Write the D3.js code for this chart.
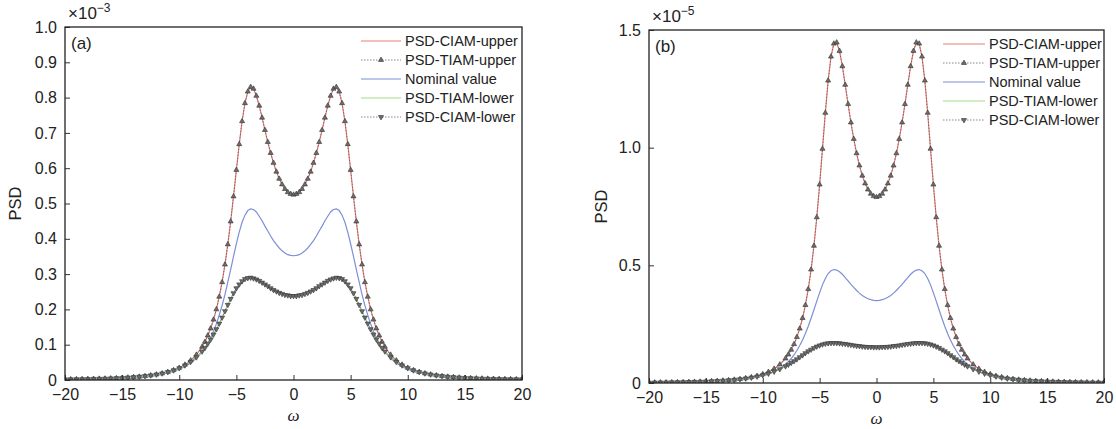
<!DOCTYPE html>
<html lang="en">
  <head>
    <meta charset="utf-8">
    <title>PSD bounds</title>
    <script type="text/javascript" src="https://cdn.jsdelivr.net/npm/d3@7"></script>
    <style>
    body { margin: 0; background: #fff; }
    svg { display: block; font-family: "Liberation Sans", Arial, sans-serif; }
    </style>
  </head>
  <body>
    <div id="chart"></div>
    <script type="text/javascript">

      // frequency grid (omega)
      var omega = [-20,-19.5,-19,-18.5,-18,-17.5,-17,-16.5,-16,-15.5,-15,-14.5,-14,-13.5,-13,-12.5,-12,-11.5,-11,-10.5,-10,-9.5,-9,-8.5,
        -8,-7.75,-7.5,-7.25,-7,-6.75,-6.5,-6.25,-6,-5.75,-5.5,-5.25,-5,-4.75,-4.5,-4.25,-4,-3.75,-3.5,-3.25,-3,-2.75,-2.5,-2.25,-2,-1.75,-1.5,-1.25,-1,-0.75,-0.5,-0.25,
        0,
        0.25,0.5,0.75,1,1.25,1.5,1.75,2,2.25,2.5,2.75,3,3.25,3.5,3.75,4,4.25,4.5,4.75,5,5.25,5.5,5.75,6,6.25,6.5,6.75,7,7.25,7.5,7.75,8,
        8.5,9,9.5,10,10.5,11,11.5,12,12.5,13,13.5,14,14.5,15,15.5,16,16.5,17,17.5,18,18.5,19,19.5,20];

      // panel (a), units of 1e-3
      var upperA = [0.0018,0.0020,0.0022,0.0025,0.0028,0.0031,0.0035,0.0040,0.0045,0.0052,0.0060,0.0069,0.0080,0.0093,0.0110,0.0130,0.0155,0.0186,0.0227,0.0278,0.0345,0.0434,0.0553,0.0715,
        0.094,0.108,0.126,0.146,0.171,0.200,0.236,0.277,0.327,0.384,0.449,0.520,0.595,0.668,0.733,0.784,0.817,0.830,0.825,0.805,0.777,0.743,0.708,0.674,0.643,0.615,0.590,0.570,0.554,0.541,0.532,0.527,
        0.525,
        0.527,0.532,0.541,0.554,0.570,0.590,0.615,0.643,0.674,0.708,0.743,0.777,0.805,0.825,0.830,0.817,0.784,0.733,0.668,0.595,0.520,0.449,0.384,0.327,0.277,0.236,0.200,0.171,0.146,0.126,0.108,0.094,
        0.0715,0.0553,0.0434,0.0345,0.0278,0.0227,0.0186,0.0155,0.0130,0.0110,0.0093,0.0080,0.0069,0.0060,0.0052,0.0045,0.0040,0.0035,0.0031,0.0028,0.0025,0.0022,0.0020,0.0018];

      var nominalA = [0.0016,0.0018,0.0020,0.0022,0.0025,0.0028,0.0032,0.0036,0.0041,0.0046,0.0053,0.0062,0.0071,0.0083,0.0098,0.0116,0.0138,0.0166,0.0201,0.0245,0.0303,0.0379,0.0479,0.0614,
        0.080,0.091,0.104,0.120,0.138,0.159,0.184,0.211,0.242,0.277,0.313,0.350,0.386,0.419,0.447,0.467,0.480,0.485,0.483,0.476,0.464,0.451,0.436,0.422,0.408,0.395,0.384,0.374,0.366,0.360,0.355,0.353,
        0.352,
        0.353,0.355,0.360,0.366,0.374,0.384,0.395,0.408,0.422,0.436,0.451,0.464,0.476,0.483,0.485,0.480,0.467,0.447,0.419,0.386,0.350,0.313,0.277,0.242,0.211,0.184,0.159,0.138,0.120,0.104,0.091,0.080,
        0.0614,0.0479,0.0379,0.0303,0.0245,0.0201,0.0166,0.0138,0.0116,0.0098,0.0083,0.0071,0.0062,0.0053,0.0046,0.0041,0.0036,0.0032,0.0028,0.0025,0.0022,0.0020,0.0018,0.0016];

      var lowerA = [0.0019,0.0021,0.0023,0.0026,0.0029,0.0032,0.0036,0.0041,0.0047,0.0053,0.0061,0.0071,0.0082,0.0095,0.0112,0.0132,0.0156,0.0187,0.0225,0.0274,0.0335,0.0414,0.0515,0.0645,
        0.081,0.091,0.103,0.115,0.129,0.144,0.160,0.177,0.195,0.213,0.230,0.246,0.260,0.271,0.280,0.286,0.289,0.290,0.288,0.285,0.281,0.276,0.271,0.266,0.260,0.255,0.251,0.247,0.244,0.241,0.240,0.238,
        0.238,
        0.238,0.240,0.241,0.244,0.247,0.251,0.255,0.260,0.266,0.271,0.276,0.281,0.285,0.288,0.290,0.289,0.286,0.280,0.271,0.260,0.246,0.230,0.213,0.195,0.177,0.160,0.144,0.129,0.115,0.103,0.091,0.081,
        0.0645,0.0515,0.0414,0.0335,0.0274,0.0225,0.0187,0.0156,0.0132,0.0112,0.0095,0.0082,0.0071,0.0061,0.0053,0.0047,0.0041,0.0036,0.0032,0.0029,0.0026,0.0023,0.0021,0.0019];

      // panel (b), units of 1e-5
      var upperB = [0.0019,0.0022,0.0024,0.0027,0.0030,0.0034,0.0038,0.0043,0.0049,0.0056,0.0065,0.0075,0.0087,0.0101,0.0119,0.0141,0.0168,0.0202,0.0246,0.0302,0.0375,0.0472,0.0604,0.0785,
        0.104,0.121,0.141,0.165,0.195,0.231,0.276,0.331,0.399,0.482,0.583,0.704,0.843,0.995,1.148,1.285,1.387,1.442,1.447,1.411,1.346,1.267,1.185,1.107,1.037,0.976,0.924,0.881,0.848,0.822,0.804,0.794,
        0.790,
        0.794,0.804,0.822,0.848,0.881,0.924,0.976,1.037,1.107,1.185,1.267,1.346,1.411,1.447,1.442,1.387,1.285,1.148,0.995,0.843,0.704,0.583,0.482,0.399,0.331,0.276,0.231,0.195,0.165,0.141,0.121,0.104,
        0.0785,0.0604,0.0472,0.0375,0.0302,0.0246,0.0202,0.0168,0.0141,0.0119,0.0101,0.0087,0.0075,0.0065,0.0056,0.0049,0.0043,0.0038,0.0034,0.0030,0.0027,0.0024,0.0022,0.0019];

      var nominalB = [0.0016,0.0018,0.0020,0.0022,0.0025,0.0028,0.0032,0.0036,0.0041,0.0046,0.0053,0.0062,0.0071,0.0083,0.0097,0.0115,0.0137,0.0165,0.0200,0.0244,0.0301,0.0377,0.0476,0.0611,
        0.079,0.091,0.104,0.119,0.138,0.159,0.183,0.210,0.241,0.275,0.311,0.348,0.384,0.417,0.444,0.465,0.477,0.482,0.480,0.473,0.462,0.448,0.434,0.419,0.406,0.393,0.382,0.372,0.364,0.358,0.354,0.351,
        0.350,
        0.351,0.354,0.358,0.364,0.372,0.382,0.393,0.406,0.419,0.434,0.448,0.462,0.473,0.480,0.482,0.477,0.465,0.444,0.417,0.384,0.348,0.311,0.275,0.241,0.210,0.183,0.159,0.138,0.119,0.104,0.091,0.079,
        0.0611,0.0476,0.0377,0.0301,0.0244,0.0200,0.0165,0.0137,0.0115,0.0097,0.0083,0.0071,0.0062,0.0053,0.0046,0.0041,0.0036,0.0032,0.0028,0.0025,0.0022,0.0020,0.0018,0.0016];

      var lowerB = [0.0020,0.0022,0.0025,0.0027,0.0031,0.0035,0.0039,0.0044,0.0050,0.0057,0.0065,0.0075,0.0086,0.0100,0.0117,0.0137,0.0162,0.0192,0.0229,0.0274,0.0331,0.0400,0.0485,0.0588,
        0.071,0.078,0.086,0.093,0.101,0.110,0.118,0.127,0.135,0.142,0.149,0.155,0.160,0.164,0.167,0.169,0.170,0.170,0.170,0.169,0.167,0.166,0.164,0.162,0.160,0.158,0.157,0.155,0.154,0.153,0.153,0.152,
        0.152,
        0.152,0.153,0.153,0.154,0.155,0.157,0.158,0.160,0.162,0.164,0.166,0.167,0.169,0.170,0.170,0.170,0.169,0.167,0.164,0.160,0.155,0.149,0.142,0.135,0.127,0.118,0.110,0.101,0.093,0.086,0.078,0.071,
        0.0588,0.0485,0.0400,0.0331,0.0274,0.0229,0.0192,0.0162,0.0137,0.0117,0.0100,0.0086,0.0075,0.0065,0.0057,0.0050,0.0044,0.0039,0.0035,0.0031,0.0027,0.0025,0.0022,0.0020];

      var xTicks = [-20, -15, -10, -5, 0, 5, 10, 15, 20];
      var yTicksA = [0, 0.1, 0.2, 0.3, 0.4, 0.5, 0.6, 0.7, 0.8, 0.9, 1.0];
      var yTicksB = [0, 0.5, 1.0, 1.5];
      var legendLabels = ["PSD-CIAM-upper", "PSD-TIAM-upper", "Nominal value", "PSD-TIAM-lower", "PSD-CIAM-lower"];

      var W = 1116, H = 429;

      var svg = d3.select("#chart").append("svg")
          .attr("width", W)
          .attr("height", H);

      var red = "#ee7f76", blue = "#7d8fd6", green = "#a6da8a";
      var mkFill = "#6e6e6e", mkStroke = "#333", mkSize = 11;

      function drawPanel(p) {
        var x = d3.scaleLinear().domain([-20, 20]).range([p.left, p.right]);
        var y = d3.scaleLinear().domain([0, p.ymax]).range([p.bottom, p.top]);

        var g = svg.append("g");

        // clip so markers stay in the box
        var clipId = "clip-" + p.tag;
        g.append("clipPath").attr("id", clipId)
          .append("rect")
            .attr("x", p.left).attr("y", p.top)
            .attr("width", p.right - p.left).attr("height", p.bottom - p.top);

        var data = function(arr) {
          return omega.map(function(w, i) { return [w, arr[i]]; });
        };

        var line = d3.line()
            .x(function(d) { return x(d[0]); })
            .y(function(d) { return y(d[1]); });

        var plot = g.append("g").attr("clip-path", "url(#" + clipId + ")");

        // PSD-CIAM-upper
        plot.append("path").datum(data(p.upper))
            .attr("d", line).attr("fill", "none")
            .attr("stroke", red).attr("stroke-width", 1.2);

        // PSD-TIAM-upper
        plot.append("path").datum(data(p.upper))
            .attr("d", line).attr("fill", "none")
            .attr("stroke", "#555").attr("stroke-width", 0.7)
            .attr("stroke-dasharray", "1.5,1.5");
        plot.selectAll(".up").data(data(p.upper)).enter().append("path")
            .attr("class", "up")
            .attr("d", d3.symbol().type(d3.symbolTriangle).size(mkSize))
            .attr("transform", function(d) { return "translate(" + x(d[0]) + "," + y(d[1]) + ")"; })
            .attr("fill", mkFill).attr("stroke", mkStroke).attr("stroke-width", 0.6);

        // Nominal value
        plot.append("path").datum(data(p.nominal))
            .attr("d", line).attr("fill", "none")
            .attr("stroke", blue).attr("stroke-width", 1.2);

        // PSD-TIAM-lower
        plot.append("path").datum(data(p.lower))
            .attr("d", line).attr("fill", "none")
            .attr("stroke", green).attr("stroke-width", 1.2);

        // PSD-CIAM-lower
        plot.append("path").datum(data(p.lower))
            .attr("d", line).attr("fill", "none")
            .attr("stroke", "#555").attr("stroke-width", 0.7)
            .attr("stroke-dasharray", "1.5,1.5");
        plot.selectAll(".dn").data(data(p.lower)).enter().append("path")
            .attr("class", "dn")
            .attr("d", d3.symbol().type(d3.symbolTriangle).size(mkSize))
            .attr("transform", function(d) { return "translate(" + x(d[0]) + "," + y(d[1]) + ") rotate(180)"; })
            .attr("fill", mkFill).attr("stroke", mkStroke).attr("stroke-width", 0.6);

        // axes (ticks pointing inward)
        var xAxis = d3.axisBottom(x).tickValues(xTicks).tickSizeInner(-5).tickSizeOuter(0).tickPadding(9)
            .tickFormat(function(d) { return d < 0 ? "\u2212" + Math.abs(d) : d; });
        var yAxis = d3.axisLeft(y).tickValues(p.yTicks).tickSizeInner(-5).tickSizeOuter(0).tickPadding(8)
            .tickFormat(function(d) { return d === 0 ? "0" : d3.format(".1f")(d); });

        var gx = g.append("g").attr("transform", "translate(0," + p.bottom + ")").call(xAxis);
        var gy = g.append("g").attr("transform", "translate(" + p.left + ",0)").call(yAxis);
        [gx, gy].forEach(function(a) {
          a.select(".domain").remove();
          a.selectAll("line").attr("stroke", "#333");
          a.selectAll("text").attr("font-size", 16).attr("fill", "#222")
            .attr("font-family", "'Liberation Sans', Arial, sans-serif");
        });

        // box
        g.append("rect")
            .attr("x", p.left).attr("y", p.top)
            .attr("width", p.right - p.left).attr("height", p.bottom - p.top)
            .attr("fill", "none").attr("stroke", "#222").attr("stroke-width", 1.3);

        // exponent label
        var ex = g.append("text").attr("x", p.left + 3).attr("y", p.top - 8)
            .attr("font-size", 17).attr("fill", "#222");
        ex.append("tspan").text("\u00d710");
        ex.append("tspan").attr("dy", -7).attr("font-size", 12).text(p.exp);

        // panel tag
        g.append("text").attr("x", p.left + 6).attr("y", p.top + 22)
          .attr("font-size", 17).attr("fill", "#222").text(p.tagText);

        // axis titles
        g.append("text")
            .attr("transform", "translate(" + p.ylabX + "," + ((p.top + p.bottom) / 2) + ") rotate(-90)")
            .attr("text-anchor", "middle").attr("font-size", 16.5).attr("fill", "#222")
            .text("PSD");
        g.append("text")
            .attr("x", (p.left + p.right) / 2).attr("y", p.bottom + 41)
            .attr("text-anchor", "middle").attr("font-size", 17).attr("fill", "#222")
            .attr("font-style", "italic").attr("font-family", "'Liberation Serif', 'Times New Roman', serif")
            .text("\u03c9");

        // legend
        var lg = g.append("g").attr("transform", "translate(" + p.legX + "," + p.legY + ")");
        legendLabels.forEach(function(lab, i) {
          var row = lg.append("g").attr("transform", "translate(0," + (i * 19) + ")");
          if (i === 0 || i === 2 || i === 3) {
            row.append("line").attr("x1", 0).attr("x2", p.legLen).attr("y1", 0).attr("y2", 0)
              .attr("stroke", [red, null, blue, green][i]).attr("stroke-width", 1.2);
          } else {
            row.append("line").attr("x1", 0).attr("x2", p.legLen).attr("y1", 0).attr("y2", 0)
              .attr("stroke", "#555").attr("stroke-width", 0.7).attr("stroke-dasharray", "1.5,1.5");
            row.append("path")
              .attr("d", d3.symbol().type(d3.symbolTriangle).size(mkSize))
              .attr("transform", "translate(" + (p.legLen / 2) + ",0)" + (i === 4 ? " rotate(180)" : ""))
              .attr("fill", mkFill).attr("stroke", mkStroke).attr("stroke-width", 0.6);
          }
          row.append("text").attr("x", p.legLen + 4).attr("y", 0).attr("dy", "0.35em")
            .attr("font-size", 14.5).attr("fill", "#222").text(lab);
        });
      }

      drawPanel({
        tag: "a", tagText: "(a)", exp: "\u22123",
        left: 65, right: 522, top: 27, bottom: 380, ymax: 1.0, yTicks: yTicksA,
        upper: upperA, nominal: nominalA, lower: lowerA,
        ylabX: 21, legX: 361, legY: 41, legLen: 40
      });

      drawPanel({
        tag: "b", tagText: "(b)", exp: "\u22125",
        left: 649, right: 1104, top: 30, bottom: 383, ymax: 1.5, yTicks: yTicksB,
        upper: upperB, nominal: nominalB, lower: lowerB,
        ylabX: 607, legX: 943, legY: 44, legLen: 42
      });

    </script>
  </body>
</html>
